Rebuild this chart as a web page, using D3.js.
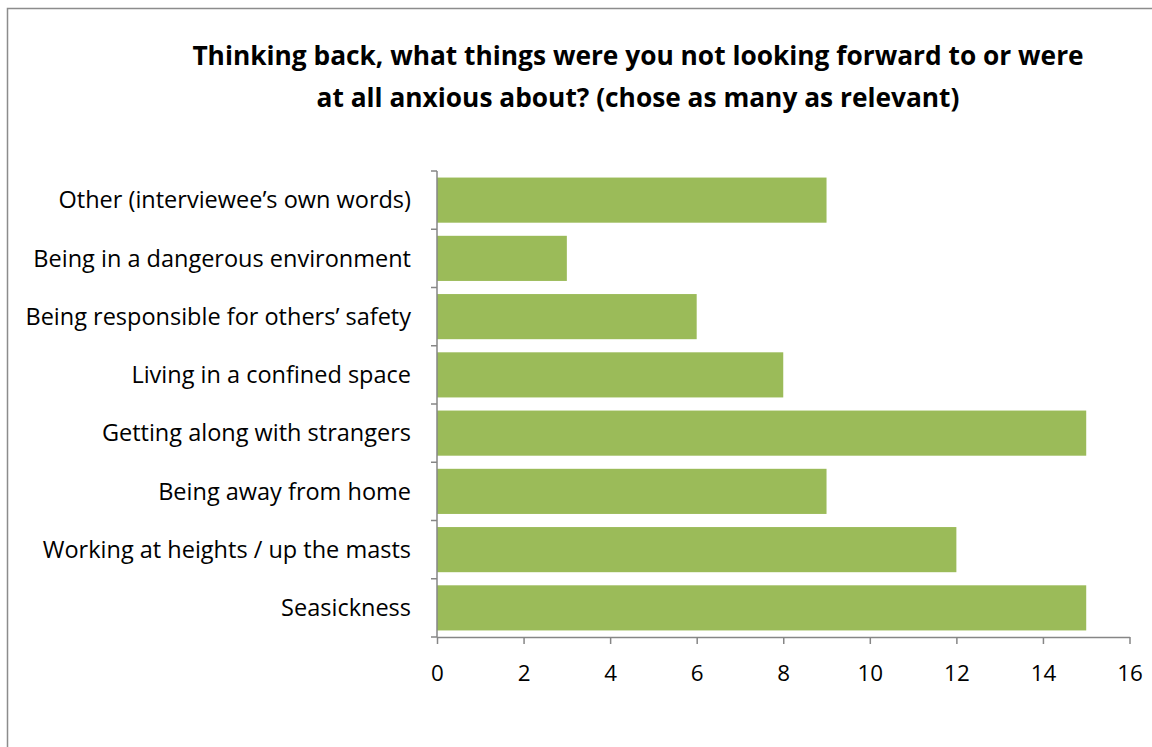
<!DOCTYPE html>
<html>
<head>
<meta charset="utf-8">
<script src="https://cdn.jsdelivr.net/npm/d3@7"></script>
<style>
  html, body { margin: 0; padding: 0; background: #fff; }
  svg { display: block; }
  text { font-family: "Open Sans", sans-serif; fill: #000; }
</style>
</head>
<body>
<svg id="chart" width="1152" height="747"></svg>
<script>
// Survey answers, listed bottom to top as they appear on the chart
const categories = [
  "Seasickness",
  "Working at heights / up the masts",
  "Being away from home",
  "Getting along with strangers",
  "Living in a confined space",
  "Being responsible for others\u2019 safety",
  "Being in a dangerous environment",
  "Other (interviewee\u2019s own words)"
];
const counts = [15, 12, 9, 15, 8, 6, 3, 9];
const xTicks = [0, 2, 4, 6, 8, 10, 12, 14, 16];
const titleLines = [
  "Thinking back, what things were you not looking forward to or were",
  "at all anxious about? (chose as many as relevant)"
];

const svg = d3.select("#chart");

// outer chart frame
svg.append("rect")
  .attr("x", 7.5).attr("y", 8.5)
  .attr("width", 1160).attr("height", 760)
  .attr("fill", "none").attr("stroke", "#8c8c8c").attr("stroke-width", 1.5);

const plot = { left: 437, right: 1129.5, top: 171, bottom: 637 };

const x = d3.scaleLinear().domain([0, 16]).range([plot.left, plot.right]);
const y = d3.scaleBand()
  .domain(categories.slice().reverse())
  .range([plot.top, plot.bottom])
  .paddingInner(0.225)
  .paddingOuter(0.1125);

// title
const title = svg.append("text")
  .attr("text-anchor", "middle")
  .attr("font-weight", "bold")
  .attr("font-size", 26.3);
titleLines.forEach((line, i) => {
  title.append("tspan")
    .attr("x", 638)
    .attr("y", 65 + i * 41.5)
    .text(line);
});

// bars
svg.append("g").selectAll("rect")
  .data(categories.map((c, i) => ({ c, v: counts[i] })))
  .join("rect")
  .attr("x", x(0))
  .attr("y", d => y(d.c))
  .attr("width", d => x(d.v) - x(0))
  .attr("height", y.bandwidth())
  .attr("fill", "#9bbb59");

// value axis
const xAxis = svg.append("g")
  .attr("transform", `translate(0,${plot.bottom})`)
  .call(d3.axisBottom(x).tickValues(xTicks).tickSize(7).tickPadding(21).tickSizeOuter(0));
xAxis.select(".domain").attr("stroke", "#868686").attr("stroke-width", 1.5);
xAxis.selectAll(".tick line").attr("stroke", "#868686").attr("stroke-width", 1.5);
xAxis.selectAll(".tick text").attr("font-size", 22.4).attr("font-family", "'Open Sans', sans-serif").attr("fill", "#000");

// category axis with ticks on band boundaries
const yAxisG = svg.append("g").attr("transform", `translate(${plot.left},0)`);
yAxisG.append("line")
  .attr("x1", 0).attr("x2", 0)
  .attr("y1", plot.top).attr("y2", plot.bottom)
  .attr("stroke", "#868686").attr("stroke-width", 1.5);
const step = (plot.bottom - plot.top) / categories.length;
yAxisG.selectAll("line.tk")
  .data(d3.range(categories.length + 1))
  .join("line")
  .attr("class", "tk")
  .attr("x1", -6).attr("x2", 0)
  .attr("y1", i => plot.top + i * step)
  .attr("y2", i => plot.top + i * step)
  .attr("stroke", "#868686").attr("stroke-width", 1.5);
yAxisG.selectAll("text")
  .data(categories)
  .join("text")
  .attr("x", -26)
  .attr("y", d => y(d) + y.bandwidth() / 2)
  .attr("dy", "0.35em")
  .attr("text-anchor", "end")
  .attr("font-size", 23.5)
  .text(d => d);
</script>
</body>
</html>
